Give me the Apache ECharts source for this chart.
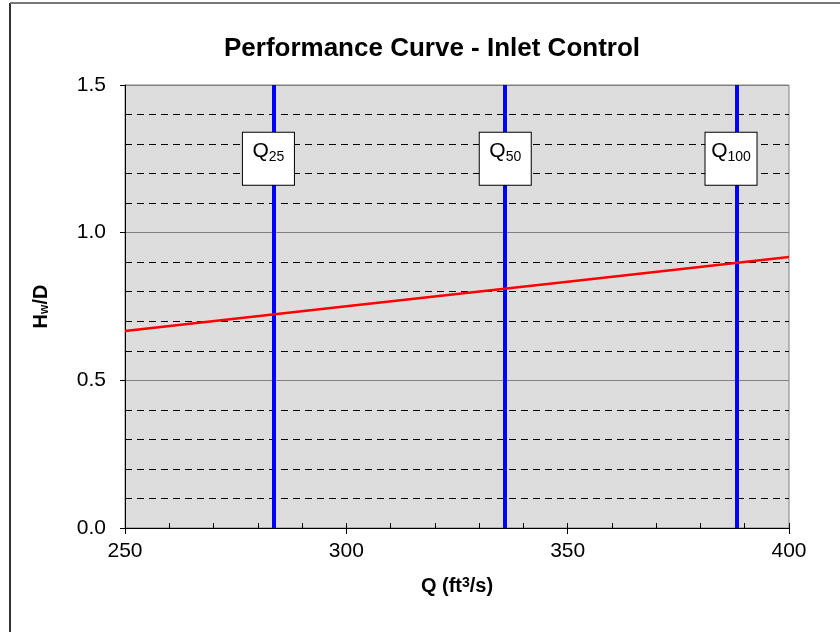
<!DOCTYPE html>
<html>
<head>
<meta charset="utf-8">
<script src="https://cdn.jsdelivr.net/npm/echarts@6/dist/echarts.min.js"></script>
<style>
html,body{margin:0;padding:0;background:#fff;}
#c{width:840px;height:632px;}
</style>
</head>
<body>
<div id="c"></div>
<script>
// Performance curve (inlet control)
const qValues = [250, 300, 350, 400];
const hwdValues = [0.667, 0.751, 0.834, 0.918];
// Design flows (vertical lines)
const designNames = ['25', '50', '100'];
const designQ = [283.7, 335.8, 388.3];
// Label boxes (as placed on the chart)
const labelQ = [282.4, 335.9, 386.9];
const labelLevel = 1.25;
const xTicks = [250, 300, 350, 400];
const yTicks = [0.0, 0.5, 1.0, 1.5];

const F = 'Liberation Sans, Arial, sans-serif';
const chart = echarts.init(document.getElementById('c'));
const option = {
  animation: false,
  backgroundColor: '#ffffff',
  title: {
    text: 'Performance Curve - Inlet Control',
    left: 427, top: 31, textAlign: 'center',
    textStyle: {fontFamily: F, fontSize: 26, fontWeight: 'bold', color: '#000'}
  },
  graphic: [
    {type: 'line', shape: {x1: 10, y1: 3, x2: 10, y2: 632}, style: {stroke: '#333', lineWidth: 2}},
    {type: 'line', shape: {x1: 10, y1: 3, x2: 840, y2: 3}, style: {stroke: '#777', lineWidth: 2}}
  ],
  grid: {
    left: 125, right: 51, top: 85, bottom: 104,
    show: true, backgroundColor: '#dddddd', borderColor: '#808080', borderWidth: 1
  },
  xAxis: [{
    type: 'value', min: xTicks[0], max: xTicks[xTicks.length - 1], interval: 50,
    name: 'Q (ft{sup|3}/s)', nameLocation: 'middle', nameGap: 48,
    nameTextStyle: {fontFamily: F, fontSize: 20, fontWeight: 'bold', color: '#000',
      rich: {sup: {fontFamily: F, fontSize: 14, fontWeight: 'bold', color: '#000', verticalAlign: 'top', lineHeight: 14}}},
    axisLine: {show: true, lineStyle: {color: '#000', width: 1}},
    axisTick: {show: true, length: 6, inside: false, lineStyle: {color: '#000'}},
    axisLabel: {fontFamily: F, fontSize: 21, color: '#000', margin: 13},
    splitLine: {show: false}
  }, {
    type: 'value', min: xTicks[0], max: xTicks[xTicks.length - 1], interval: 10,
    position: 'bottom', gridIndex: 0,
    axisLine: {show: false},
    axisTick: {show: true, inside: true, length: 5, lineStyle: {color: '#000'}},
    axisLabel: {show: false},
    splitLine: {show: false}
  }],
  yAxis: {
    type: 'value', min: yTicks[0], max: yTicks[yTicks.length - 1], interval: 0.5,
    name: 'H{s|w}/D', nameLocation: 'middle', nameGap: 74, nameRotate: 90,
    nameTextStyle: {fontFamily: F, fontSize: 20, fontWeight: 'bold', color: '#000',
      rich: {s: {fontFamily: F, fontSize: 12, fontWeight: 'bold', color: '#000', verticalAlign: 'bottom', lineHeight: 11}}},
    axisLine: {show: true, lineStyle: {color: '#000', width: 1}},
    axisTick: {show: true, length: 5, inside: false, lineStyle: {color: '#000'}},
    axisLabel: {fontFamily: F, fontSize: 21, color: '#000', margin: 19,
      formatter: v => v.toFixed(1)},
    splitLine: {show: true, lineStyle: {color: '#808080', width: 1}},
    minorTick: {show: false, splitNumber: 5},
    minorSplitLine: {show: true, lineStyle: {color: '#000', width: 1, type: [7, 5]}}
  },
  series: [{
    type: 'line',
    data: qValues.map((q, i) => [q, hwdValues[i]]),
    showSymbol: false, symbol: 'none',
    lineStyle: {color: '#ff0000', width: 2.5},
    z: 5
  }, {
    type: 'line', data: [], z: 4,
    markLine: {
      silent: true, symbol: 'none', label: {show: false},
      lineStyle: {color: '#0000ff', width: 4, type: 'solid'},
      data: designQ.map(q => ({xAxis: q}))
    }
  }, {
    type: 'scatter',
    data: labelQ.map((q, i) => [q, labelLevel, designNames[i]]),
    symbolSize: 0, z: 10,
    itemStyle: {opacity: 1},
    label: {
      show: true, position: 'inside',
      formatter: p => '{q|Q}{s|' + p.value[2] + '}',
      backgroundColor: '#ffffff', borderColor: '#000', borderWidth: 1,
      width: 51, align: 'center', padding: [5, 0, 21, 0],
      rich: {
        q: {fontFamily: F, fontSize: 21, color: '#000', lineHeight: 26, verticalAlign: 'middle'},
        s: {fontFamily: F, fontSize: 14, color: '#000', lineHeight: 10, verticalAlign: 'bottom'}
      }
    }
  }]
};
chart.setOption(option);
</script>
</body>
</html>
